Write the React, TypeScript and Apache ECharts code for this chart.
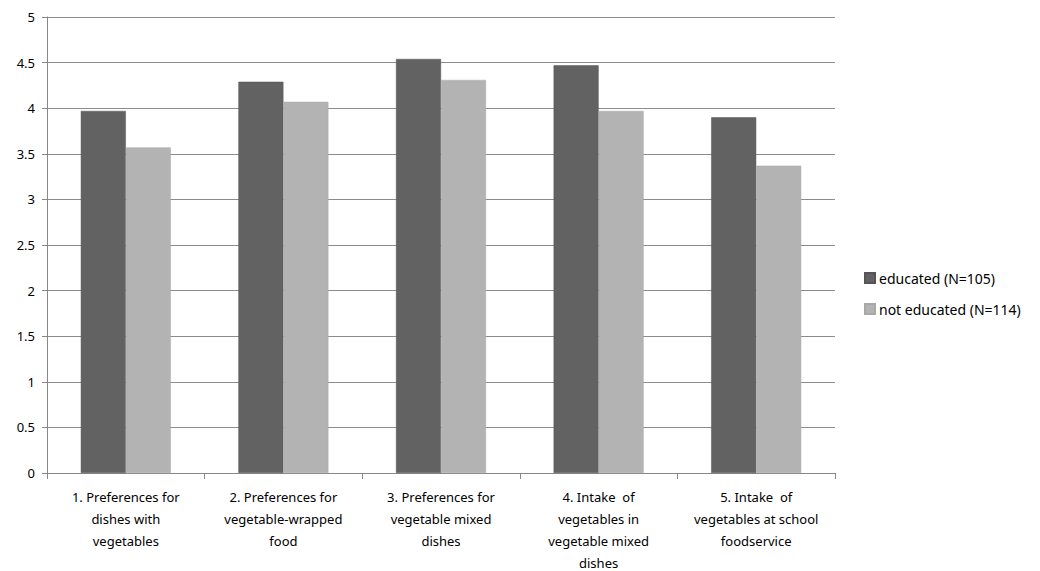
import React, { useEffect, useRef } from "react";
import * as echarts from "echarts";

const categories = [
  "1. Preferences for\ndishes with\nvegetables",
  "2. Preferences for\nvegetable-wrapped\nfood",
  "3. Preferences for\nvegetable mixed\ndishes",
  "4. Intake  of\nvegetables in\nvegetable mixed\ndishes",
  "5. Intake  of\nvegetables at school\nfoodservice",
];
const educated = [3.97, 4.29, 4.54, 4.47, 3.9];
const notEducated = [3.57, 4.07, 4.31, 3.97, 3.37];
const seriesNames = ["educated (N=105)", "not educated (N=114)"];

export default function App() {
  const ref = useRef<HTMLDivElement>(null);
  useEffect(() => {
    document.body.style.margin = "0";
    document.body.style.overflow = "hidden";
    const chart = echarts.init(ref.current!, null, { renderer: "svg" });
    const font = "'Noto Sans', sans-serif";
    chart.setOption({
      animation: false,
      textStyle: { fontFamily: font },
      grid: {
        left: 47,
        right: 205,
        top: 17,
        bottom: 98,
        containLabel: false,
        outerBoundsMode: "none",
      },
      legend: {
        orient: "vertical",
        left: 859,
        top: 266,
        itemWidth: 10,
        itemHeight: 10,
        itemGap: 17,
        icon: "rect",
        textStyle: { fontSize: 14, color: "#000", fontFamily: font, padding: [0, 0, 0, -1] },
        data: seriesNames,
      },
      xAxis: {
        type: "category",
        data: categories,
        axisLine: { lineStyle: { color: "#878787", width: 1 } },
        axisTick: { show: true, length: 6, lineStyle: { color: "#878787" } },
        axisLabel: {
          interval: 0,
          fontSize: 13,
          color: "#000",
          lineHeight: 22,
          margin: 13,
          fontFamily: font,
        },
      },
      yAxis: {
        type: "value",
        min: 0,
        max: 5,
        interval: 0.5,
        axisLine: { show: true, lineStyle: { color: "#878787" } },
        axisTick: { show: true, length: 5, inside: false, lineStyle: { color: "#878787" } },
        splitLine: { lineStyle: { color: "#8c8c8c", width: 1 } },
        axisLabel: { fontSize: 13, color: "#000", margin: 12, fontFamily: font },
      },
      series: [
        {
          name: seriesNames[0],
          type: "bar",
          data: educated,
          barWidth: 45,
          barGap: "0%",
          itemStyle: { color: "#626262", borderColor: "#555", borderWidth: 0.5 },
        },
        {
          name: seriesNames[1],
          type: "bar",
          data: notEducated,
          barWidth: 45,
          barGap: "0%",
          itemStyle: { color: "#b3b3b3", borderColor: "#a8a8a8", borderWidth: 0.5 },
        },
      ],
    });
    return () => chart.dispose();
  }, []);
  return <div ref={ref} style={{ width: 1040, height: 571 }} />;
}
